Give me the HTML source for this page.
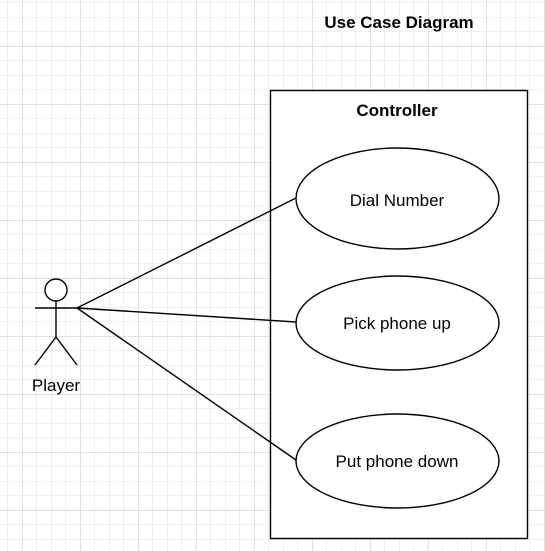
<!DOCTYPE html>
<html><head><meta charset="utf-8"><style>
html,body{margin:0;padding:0;background:#fff;}
svg{display:block;}
text{font-family:"Liberation Sans",Arial,sans-serif;fill:#000;}
</style></head><body>
<svg width="545" height="551" viewBox="0 0 545 551" xmlns="http://www.w3.org/2000/svg">
<path stroke="#f0f0f0" stroke-width="1" fill="none" d="M7.5 0V551M36.5 0V551M51.5 0V551M65.5 0V551M94.5 0V551M109.5 0V551M123.5 0V551M152.5 0V551M167.5 0V551M181.5 0V551M210.5 0V551M225.5 0V551M239.5 0V551M268.5 0V551M283.5 0V551M297.5 0V551M326.5 0V551M341.5 0V551M355.5 0V551M384.5 0V551M399.5 0V551M413.5 0V551M442.5 0V551M457.5 0V551M471.5 0V551M500.5 0V551M515.5 0V551M529.5 0V551
M0 2.5H545M0 17.5H545M0 31.5H545M0 60.5H545M0 75.5H545M0 89.5H545M0 118.5H545M0 133.5H545M0 147.5H545M0 176.5H545M0 191.5H545M0 205.5H545M0 234.5H545M0 249.5H545M0 263.5H545M0 292.5H545M0 307.5H545M0 321.5H545M0 350.5H545M0 365.5H545M0 379.5H545M0 408.5H545M0 423.5H545M0 437.5H545M0 466.5H545M0 481.5H545M0 495.5H545M0 524.5H545M0 539.5H545"/>
<path stroke="#e0e0e0" stroke-width="1" fill="none" d="M22.5 0V551M80.5 0V551M138.5 0V551M196.5 0V551M254.5 0V551M312.5 0V551M370.5 0V551M428.5 0V551M486.5 0V551M544.5 0V551
M0 46.5H545M0 104.5H545M0 162.5H545M0 220.5H545M0 278.5H545M0 336.5H545M0 394.5H545M0 452.5H545M0 510.5H545"/>
<text x="399" y="28" font-size="17" font-weight="bold" text-anchor="middle">Use Case Diagram</text>
<rect x="270.5" y="90.5" width="257" height="448" fill="#fff" stroke="#000" stroke-width="1.4"/>
<text x="397" y="116" font-size="17" font-weight="bold" text-anchor="middle">Controller</text>
<g stroke="#000" stroke-width="1.4" fill="none">
<line x1="77" y1="308" x2="296" y2="198"/>
<line x1="77" y1="308" x2="296" y2="322"/>
<line x1="77" y1="308" x2="296" y2="460"/>
<ellipse cx="397.5" cy="198.5" rx="101.5" ry="50.5" fill="#fff"/>
<ellipse cx="397.5" cy="323" rx="101.5" ry="47" fill="#fff"/>
<ellipse cx="397.5" cy="461" rx="101.5" ry="47" fill="#fff"/>
<circle cx="56" cy="290" r="11" fill="#fff"/>
<line x1="56" y1="301" x2="56" y2="337"/>
<line x1="35" y1="308" x2="77" y2="308"/>
<line x1="56" y1="337" x2="35" y2="365"/>
<line x1="56" y1="337" x2="77" y2="365"/>
</g>
<text x="397" y="206" font-size="17" text-anchor="middle">Dial Number</text>
<text x="397" y="329" font-size="17" text-anchor="middle">Pick phone up</text>
<text x="397" y="467" font-size="17" text-anchor="middle">Put phone down</text>
<text x="56" y="391" font-size="17" text-anchor="middle">Player</text>
</svg>
</body></html>
